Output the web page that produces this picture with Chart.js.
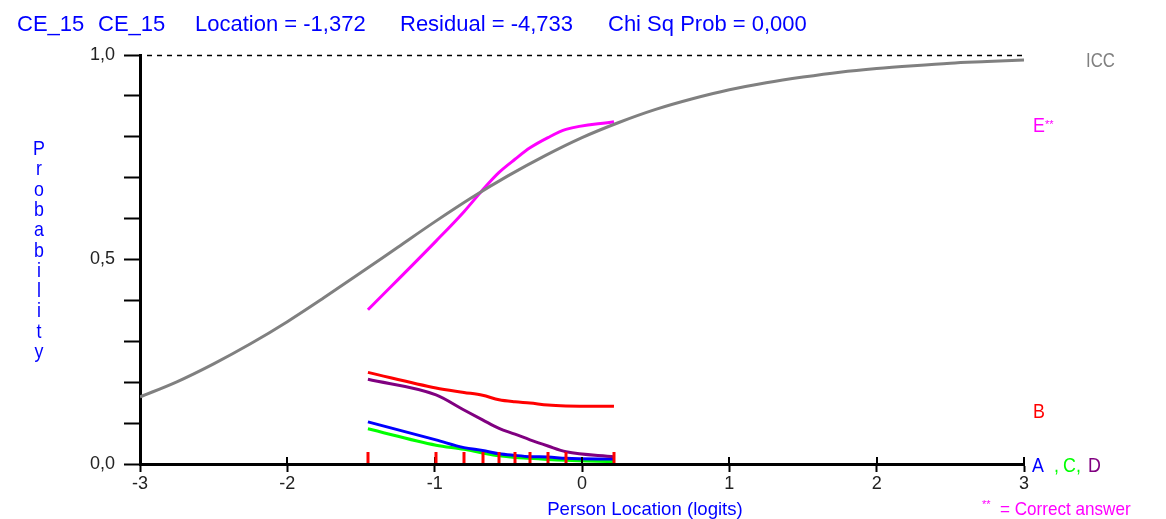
<!DOCTYPE html>
<html><head><meta charset="utf-8">
<script src="https://cdn.jsdelivr.net/npm/chart.js@4/dist/chart.umd.min.js"></script>
<style>html,body{margin:0;padding:0;background:#fff;}canvas{display:block;}</style>
</head><body>
<canvas id="c" width="1166" height="519"></canvas>
<script>
// ICC (theoretical curve)
const iccX = [-3,-2.75,-2.5,-2.25,-2,-1.75,-1.5,-1.25,-1,-0.75,-0.5,-0.25,0,0.25,0.5,0.75,1,1.25,1.5,1.75,2,2.25,2.5,2.75,3];
const iccP = [0.164,0.201,0.245,0.294,0.348,0.407,0.468,0.530,0.592,0.651,0.705,0.754,0.798,0.835,0.867,0.893,0.915,0.932,0.946,0.958,0.967,0.974,0.980,0.984,0.988];
// class interval means (red marks) and observed proportions per option
const classMeans = [-1.453,-0.991,-0.801,-0.675,-0.563,-0.455,-0.353,-0.231,-0.109,0.217];
const optA = [0.103,0.059,0.040,0.033,0.025,0.021,0.018,0.017,0.014,0.012];
const optB = [0.224,0.186,0.175,0.168,0.157,0.152,0.149,0.144,0.142,0.141];
const optC = [0.086,0.046,0.036,0.027,0.020,0.016,0.014,0.011,0.009,0.006];
const optD = [0.207,0.169,0.132,0.108,0.087,0.073,0.059,0.044,0.030,0.018];
const optE = [0.377,0.545,0.617,0.670,0.713,0.745,0.773,0.798,0.818,0.837];
// tick labels
const xTickValues = [-3,-2,-1,0,1,2,3];
const xTickLabels = ['-3','-2','-1','0','1','2','3'];
const yTickValues = [0,0.5,1];
const yTickLabels = ['0,0','0,5','1,0'];
// texts
const titleParts = ['CE_15','CE_15','Location = -1,372','Residual = -4,733','Chi Sq Prob = 0,000'];
const yTitle = 'Probability';
const xTitle = 'Person Location (logits)';

const FONT = 'Liberation Sans';
const pts = (xs, ys) => xs.map((x, i) => ({x, y: ys[i]}));

function txt(ctx, s, x, y, color, size, sx, align) {
  ctx.save();
  ctx.font = size + 'px "' + FONT + '"';
  ctx.fillStyle = color;
  ctx.textAlign = align || 'left';
  ctx.textBaseline = 'alphabetic';
  ctx.translate(x, y);
  ctx.scale(sx || 1, 1);
  ctx.fillText(s, 0, 0);
  ctx.restore();
}

const decor = {
  id: 'decor',
  afterDatasetsDraw(chart) {
    const ctx = chart.ctx, xs = chart.scales.x, ys = chart.scales.y, a = chart.chartArea;
    // dashed line at P = 1
    ctx.save();
    ctx.strokeStyle = '#000'; ctx.lineWidth = 1.5; ctx.setLineDash([5,5]);
    const y1 = Math.round(ys.getPixelForValue(1)) + 0.5;
    ctx.beginPath(); ctx.moveTo(a.left + 7, y1); ctx.lineTo(a.right, y1); ctx.stroke();
    ctx.restore();
    // upper half of x tick marks
    ctx.save();
    ctx.strokeStyle = '#000'; ctx.lineWidth = 2;
    xTickValues.forEach(v => {
      const px = Math.round(xs.getPixelForValue(v));
      ctx.beginPath(); ctx.moveTo(px, a.bottom - 7); ctx.lineTo(px, a.bottom); ctx.stroke();
    });
    ctx.restore();
    // red class-interval marks
    ctx.save();
    ctx.strokeStyle = '#ff0000'; ctx.lineWidth = 3;
    classMeans.forEach(v => {
      const px = Math.round(xs.getPixelForValue(v));
      ctx.beginPath(); ctx.moveTo(px, a.bottom - 12); ctx.lineTo(px, a.bottom - 1); ctx.stroke();
    });
    ctx.restore();
  },
  afterDraw(chart) {
    const ctx = chart.ctx;
    const blue = '#0000ff';
    const tx = [17, 98, 195, 400, 608];
    titleParts.forEach((s, i) => txt(ctx, s, tx[i], 31, blue, 22, 1));
    // vertical y title
    yTitle.split('').forEach((ch, i) => txt(ctx, ch, 39, 155 + i * 20.3, blue, 21, 0.85, 'center'));
    // x title
    txt(ctx, xTitle, 645, 515, blue, 19, 0.98, 'center');
    // right side labels
    txt(ctx, 'ICC', 1086, 67, '#808080', 21, 0.8);
    txt(ctx, 'E', 1033, 132, '#ff00ff', 21, 0.85);
    txt(ctx, '**', 1045, 128, '#ff00ff', 11, 1);
    txt(ctx, 'B', 1033, 418, '#ff0000', 21, 0.85);
    txt(ctx, 'A', 1032, 472, '#0000ff', 21, 0.85);
    txt(ctx, ',', 1054, 472, '#00ff00', 21, 0.85);
    txt(ctx, 'C,', 1063, 472, '#00ff00', 21, 0.85);
    txt(ctx, 'D', 1088, 472, '#800080', 21, 0.85);
    txt(ctx, '**', 982, 508, '#ff00ff', 11, 1);
    txt(ctx, '= Correct answer', 1000, 515, '#ff00ff', 19, 0.9);
  }
};

const line = (data, color) => ({
  data, borderColor: color, backgroundColor: color, borderWidth: 3,
  pointRadius: 0, fill: false, cubicInterpolationMode: 'monotone'
});

new Chart(document.getElementById('c'), {
  type: 'line',
  data: {
    datasets: [
      line(pts(iccX, iccP), '#808080'),
      line(pts(classMeans, optB), '#ff0000'),
      line(pts(classMeans, optD), '#800080'),
      line(pts(classMeans, optA), '#0000ff'),
      line(pts(classMeans, optC), '#00ff00'),
      line(pts(classMeans, optE), '#ff00ff')
    ]
  },
  options: {
    responsive: false,
    animation: false,
    events: [],
    layout: { padding: { left: 0, right: 142, top: 55, bottom: 0 } },
    plugins: { legend: { display: false }, tooltip: { enabled: false }, title: { display: false } },
    scales: {
      x: {
        type: 'linear', min: -3, max: 3,
        afterFit: s => { s.height = 55; },
        ticks: {
          stepSize: 1, autoSkip: false, padding: 1, color: '#222',
          font: { family: FONT, size: 18 }, maxRotation: 0,
          callback: v => { const i = xTickValues.indexOf(Math.round(v)); return i >= 0 ? xTickLabels[i] : ''; }
        },
        grid: { display: true, drawOnChartArea: false, drawTicks: true, tickLength: 8, tickColor: '#000', tickWidth: 2 },
        border: { display: true, color: '#000', width: 3 }
      },
      y: {
        type: 'linear', min: 0, max: 1,
        afterFit: s => { s.width = 140; },
        ticks: {
          stepSize: 0.1, autoSkip: false, padding: 9, color: '#222',
          font: { family: FONT, size: 18 },
          callback: v => { const i = yTickValues.findIndex(t => Math.abs(t - v) < 1e-6); return i >= 0 ? yTickLabels[i] : ''; }
        },
        grid: { display: true, drawOnChartArea: false, drawTicks: true, tickLength: 16, tickColor: '#000', tickWidth: 2 },
        border: { display: true, color: '#000', width: 3 }
      }
    }
  },
  plugins: [decor]
});
</script>
</body></html>
